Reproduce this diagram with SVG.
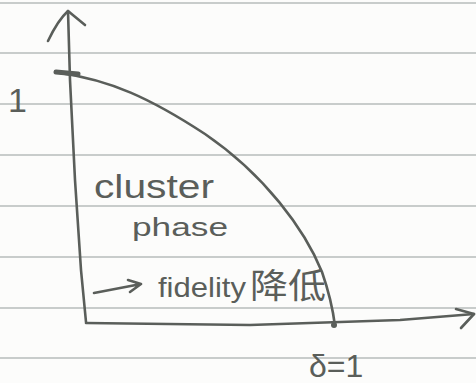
<svg xmlns="http://www.w3.org/2000/svg" width="476" height="383" viewBox="0 0 476 383">
<style>
.rule{stroke:#c8cccb;stroke-width:2;fill:none}
.ink{stroke:#5a5e5a;stroke-width:2.6;fill:none;stroke-linecap:round;stroke-linejoin:round}
.hw{fill:#5a5e5a;font-family:"Liberation Sans","Noto Sans CJK SC",sans-serif}
</style>
<rect width="476" height="383" fill="#fcfcfb"/>
<g id="paper">
<line class="rule" x1="0" y1="3" x2="476" y2="3"/>
<line class="rule" x1="0" y1="53" x2="476" y2="53"/>
<line class="rule" x1="0" y1="104" x2="476" y2="104"/>
<line class="rule" x1="0" y1="155" x2="476" y2="155"/>
<line class="rule" x1="0" y1="206" x2="476" y2="206"/>
<line class="rule" x1="0" y1="257" x2="476" y2="257"/>
<line class="rule" x1="0" y1="308" x2="476" y2="308"/>
<line class="rule" x1="0" y1="358" x2="476" y2="358"/>
</g>
<g id="connectors">
<path id="y-axis" class="ink" d="M68 11 L70 80 L75 180 L81 270 L86 322"/>
<path class="ink" d="M48 41 Q58 20 68 11 L85 25"/>
<path id="x-axis" class="ink" d="M86 323 L250 325 L400 320 L474 314"/>
<path class="ink" d="M456 309 L474 314 L461 328"/>
<path id="curve" class="ink" d="M60 73 C110 80 150 98 205 134 C265 175 305 230 322 272 C330 295 333 310 335 326"/>
<path class="ink" d="M94 293 L141 284 M128 280 L141 284 L130 292"/>
</g>
<g id="tick"><line x1="56" y1="72" x2="78" y2="74" stroke="#5a5e5a" stroke-width="5" stroke-linecap="round"/></g>
<g id="dot"><circle cx="334" cy="325" r="3" fill="#5a5e5a"/></g>
<g id="label-1"><text class="hw" x="8" y="112" font-size="34">1</text></g>
<g id="label-cluster"><text class="hw" x="94" y="198" font-size="34" textLength="120" lengthAdjust="spacingAndGlyphs">cluster</text></g>
<g id="label-phase"><text class="hw" x="132" y="236" font-size="26" textLength="96" lengthAdjust="spacingAndGlyphs">phase</text></g>
<g id="label-fidelity"><text class="hw" x="158" y="297" font-size="28" textLength="88" lengthAdjust="spacingAndGlyphs">fidelity</text>
<text class="hw" x="250" y="298" font-size="34" textLength="76" lengthAdjust="spacingAndGlyphs">降低</text></g>
<g id="label-delta"><text class="hw" x="309" y="377" font-size="32">δ=1</text></g>
</svg>
